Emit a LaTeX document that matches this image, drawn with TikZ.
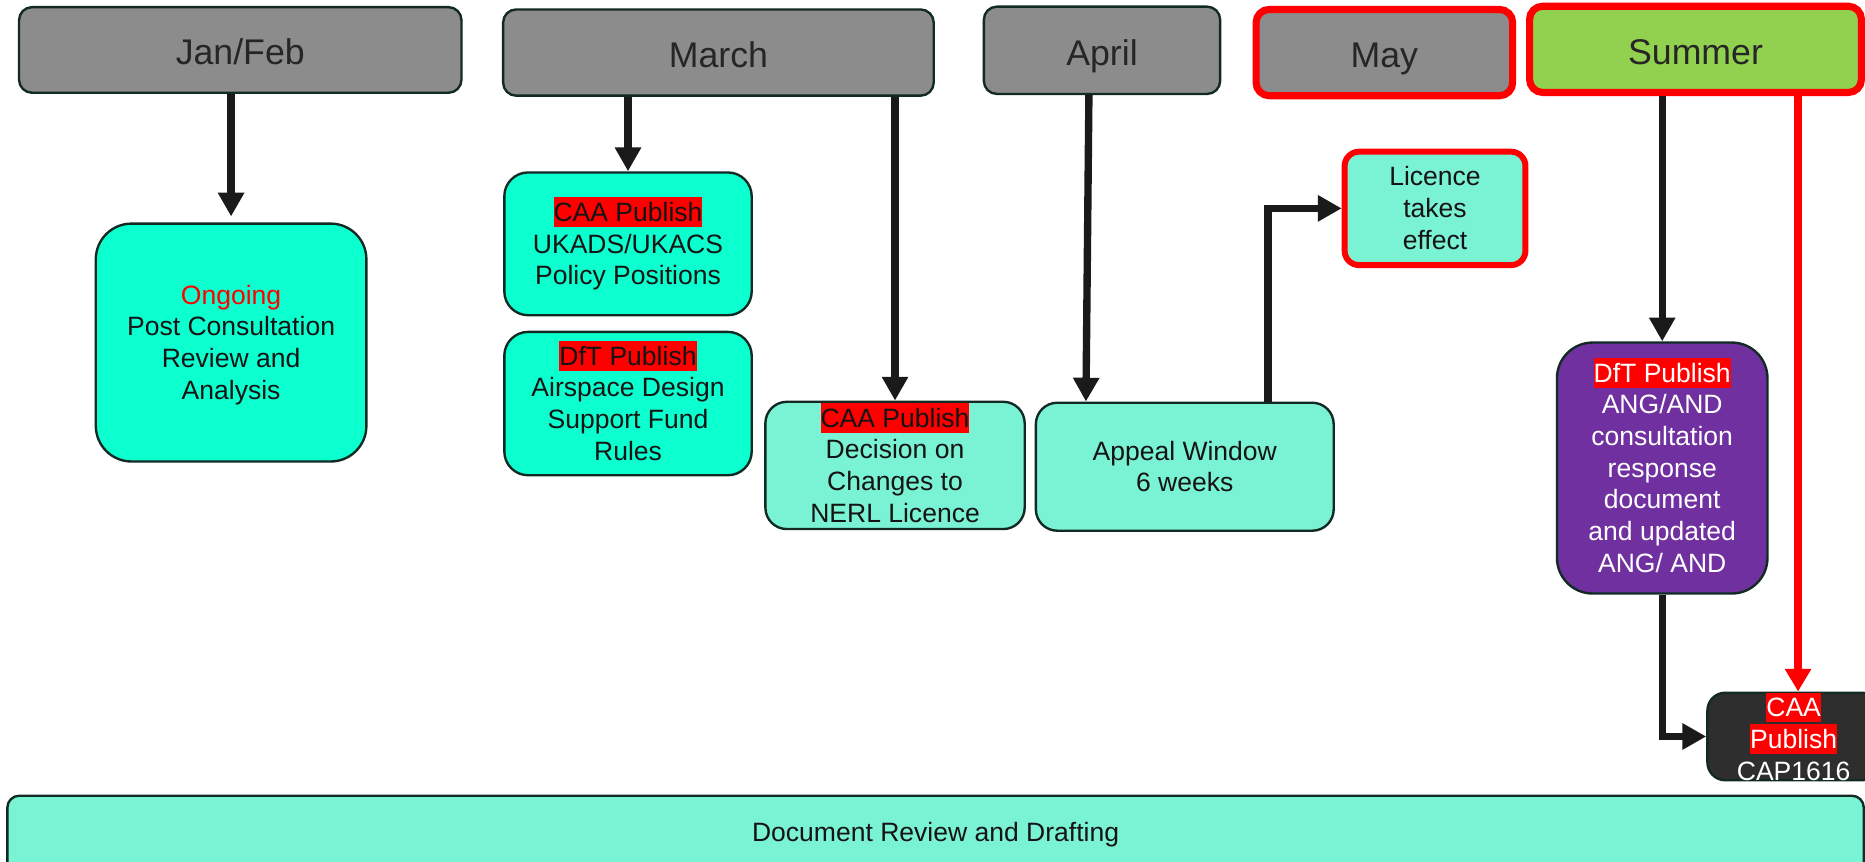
\documentclass[tikz,border=0pt]{standalone}
\usepackage{fontspec}
\setmainfont{Liberation Sans}
\usetikzlibrary{arrows.meta}
\definecolor{hdrgray}{RGB}{140,140,140}
\definecolor{hdrtxt}{RGB}{38,38,38}
\definecolor{bordc}{RGB}{18,42,36}
\definecolor{aquabright}{RGB}{12,255,206}
\definecolor{aqualight}{RGB}{122,242,212}
\definecolor{purplebox}{RGB}{112,48,160}
\definecolor{greenbox}{RGB}{146,208,80}
\definecolor{darkbox}{RGB}{46,46,46}
\definecolor{arrc}{RGB}{26,26,26}
\definecolor{txtc}{RGB}{20,20,20}
\newcommand{\mybody}{\fontsize{22.3pt}{26.6pt}\selectfont}
\newcommand{\myhead}{\fontsize{30pt}{36pt}\selectfont}
\newcommand{\mystrut}{\rule[-0.212em]{0pt}{1.117em}}
\newcommand{\hlred}[1]{{\setlength{\fboxsep}{0pt}\colorbox{red}{\mystrut#1}}}
\begin{document}
\begin{tikzpicture}[x=1pt,y=-1pt,
  hdr/.style={draw=bordc, line width=2pt, fill=hdrgray, rounded corners=11pt,
    font=\myhead, text=hdrtxt, inner sep=0pt, text height=29.3pt, text depth=4.3pt},
  hdrred/.style={hdr, draw=red, line width=6pt},
  box/.style={draw=bordc, line width=2pt, rounded corners=#1, align=center,
    inner sep=0pt, font=\mybody, text=txtc},
  box/.default=18pt,
  flow/.style={draw=arrc, line width=6.2pt, -{Triangle[width=21pt,length=20pt]}},
  flowred/.style={flow, draw=red, -{Triangle[width=21pt,length=19pt]}, fill=red}
]
\useasboundingbox (0,0) rectangle (1568,724.7);
\clip (0,0) rectangle (1568,724.7);

% headers
\node[hdr, minimum width=372pt, minimum height=72pt] (jan) at (202,42) {Jan/Feb};
\node[hdr, minimum width=362pt, minimum height=72.5pt] (mar) at (604,44.2) {March};
\node[hdr, minimum width=198.7pt, minimum height=73.4pt] (apr) at (926.5,42.3) {April};
\node[hdrred, minimum width=215.7pt, minimum height=72.5pt] (may) at (1163.9,44.2) {May};
\node[hdrred, fill=greenbox, minimum width=279pt, minimum height=72.5pt] (sum) at (1425.5,41.5) {Summer};

% boxes
\node[box=30pt, fill=aquabright, minimum width=227.5pt, minimum height=200pt] (ongoing) at (194.3,288)
  {\mystrut\textcolor{red}{Ongoing}\\Post Consultation\\Review and\\\mystrut Analysis};
\node[box=20pt, fill=aquabright, minimum width=208pt, minimum height=120pt] (ukads) at (528,205)
  {\hlred{CAA Publish}\\UKADS/UKACS\\\mystrut Policy Positions};
\node[box=20pt, fill=aquabright, minimum width=208pt, minimum height=120.5pt] (dft) at (528,339.3)
  {\hlred{DfT Publish}\\Airspace Design\\Support Fund\\\mystrut Rules};
\node[box, fill=aqualight, minimum width=218pt, minimum height=107pt] (decision) at (752.5,391.3)
  {\hlred{CAA Publish}\\Decision on\\Changes to\\\mystrut NERL Licence};
\node[box, fill=aqualight, minimum width=250.4pt, minimum height=107.6pt] (appeal) at (996.1,392.4)
  {\mystrut Appeal Window\\\mystrut 6 weeks};
\node[box=12pt, fill=aqualight, draw=red, line width=5pt, minimum width=152pt, minimum height=95.3pt] (licence) at (1206.5,175.2)
  {\mystrut Licence\\takes\\\mystrut effect};
\node[box=30pt, fill=purplebox, text=white, minimum width=177pt, minimum height=211pt] (purple) at (1397.5,393.5)
  {\hlred{DfT Publish}\\ANG/AND\\consultation\\response\\document\\and updated\\\mystrut ANG/ AND};
\node[box=15pt, fill=darkbox, text=white, minimum width=145pt, minimum height=72.3pt] (cap) at (1508,619.2)
  {\hlred{CAA}\\\hlred{Publish}\\CAP1616};
\node[box=10pt, fill=aqualight, minimum width=1560.8pt, minimum height=66pt] (doc) at (786.6,702)
  {Document Review and Drafting};

% helper coordinates
\coordinate (aprout) at ([xshift=-11pt]apr.south);
\coordinate (appin) at ([xshift=-83.1pt]appeal.north);
\coordinate (appout) at ([xshift=70pt]appeal.north);
\coordinate (captop) at ([xshift=3.7pt]cap.north);

% connectors
\draw[flow] (jan.south -| ongoing.north) -- ([yshift=5pt]ongoing.north);
\draw[flow] (mar.south -| ukads.north) -- (ukads.north);
\draw[flow] (mar.south -| decision.north) -- (decision.north);
\draw[flow] (aprout) -- (appin);
\draw[flow] (appout) |- (licence.west);
\draw[flow] (sum.south -| purple.north) -- (purple.north);
\draw[flowred] (captop |- sum.south) -- (captop);
\draw[flow] (purple.south) |- (cap.west);
\end{tikzpicture}
\end{document}
